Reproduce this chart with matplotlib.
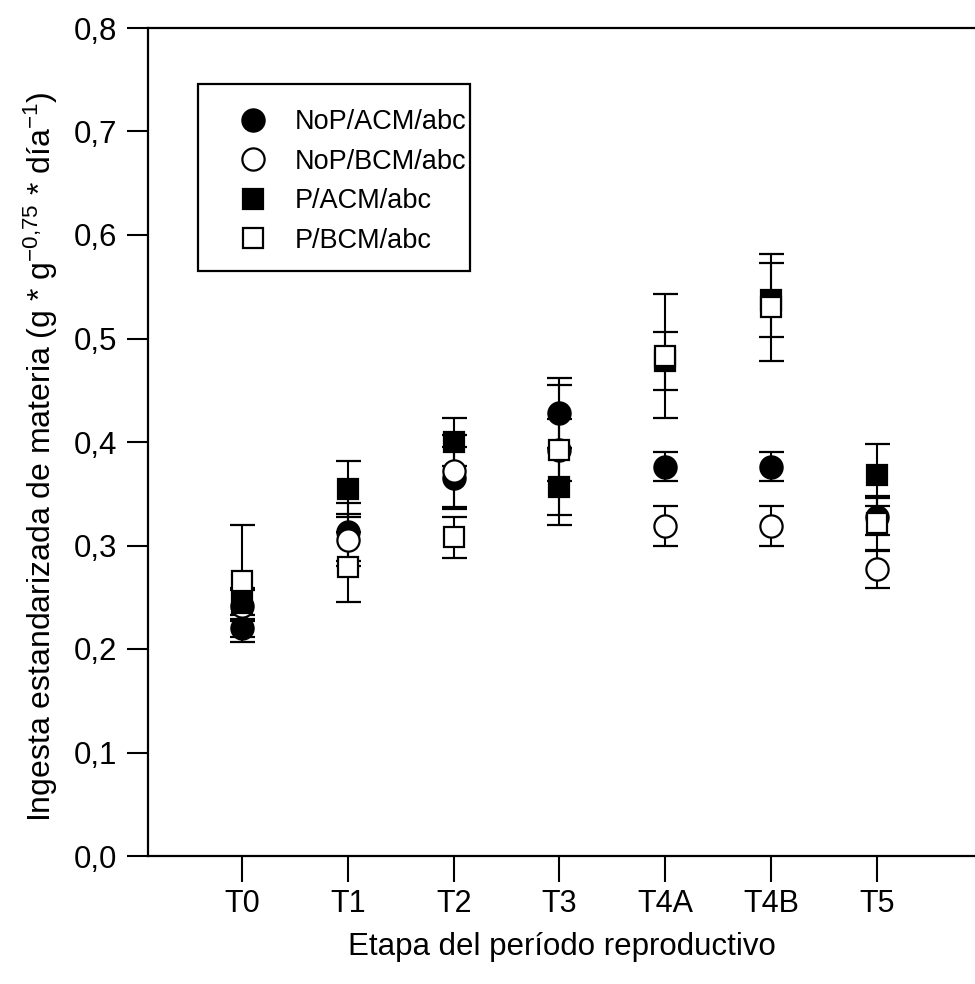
import numpy as np
import matplotlib
matplotlib.use("Agg")
import matplotlib.pyplot as plt
from matplotlib.lines import Line2D
from matplotlib.patches import Rectangle

plt.rcParams['font.family'] = ['Liberation Sans', 'DejaVu Sans']
plt.rcParams['mathtext.fontset'] = 'custom'
plt.rcParams['mathtext.rm'] = 'Liberation Sans'
plt.rcParams['mathtext.it'] = 'Liberation Sans:italic'

# Datos
etapas = ['T0', 'T1', 'T2', 'T3', 'T4A', 'T4B', 'T5']

nop_acm = [0.220, 0.313, 0.365, 0.428, 0.376, 0.376, 0.328]
nop_acm_err = [0.013, 0.028, 0.030, 0.034, 0.014, 0.014, 0.018]

nop_bcm = [0.242, 0.305, 0.372, 0.392, 0.319, 0.319, 0.277]
nop_bcm_err = [0.015, 0.025, 0.035, 0.030, 0.019, 0.019, 0.018]

p_acm = [0.244, 0.355, 0.400, 0.357, 0.478, 0.537, 0.368]
p_acm_err = [0.015, 0.027, 0.023, 0.037, 0.028, 0.036, 0.030]

p_bcm = [0.266, 0.279, 0.308, 0.392, 0.483, 0.530, 0.322]
p_bcm_err = [0.054, 0.034, 0.020, 0.063, 0.060, 0.052, 0.026]

x = np.arange(len(etapas))

W, H = 975, 984
fig = plt.figure(figsize=(W / 100, H / 100), dpi=100)
ax = fig.add_axes([148 / W, 1 - 856 / H, 1 - 148 / W, (856 - 28) / H])

series = [
    (nop_acm, nop_acm_err, 'o', 'black', 'NoP/ACM/abc', 16),
    (nop_bcm, nop_bcm_err, 'o', 'white', 'NoP/BCM/abc', 16),
    (p_acm, p_acm_err, 's', 'black', 'P/ACM/abc', 15),
    (p_bcm, p_bcm_err, 's', 'white', 'P/BCM/abc', 15),
]

handles = []
for vals, errs, mk, fc, lab, ms in series:
    ax.errorbar(x, vals, yerr=errs, fmt=mk, color='black', mfc=fc, mec='black',
                mew=1.6, ms=ms, ecolor='black', elinewidth=1.5, capsize=9,
                capthick=1.5)
    handles.append(Line2D([], [], ls='none', marker=mk, mfc=fc, mec='black',
                          mew=1.6, ms=ms, label=lab))

ax.set_xlim(-0.89, 6.93)
ax.set_ylim(0, 0.8)
ax.set_xticks(x)
ax.set_xticklabels(etapas, fontsize=22)
yt = np.arange(0, 0.81, 0.1)
ax.set_yticks(yt)
ax.set_yticklabels([f"{v:.1f}".replace('.', ',') for v in yt], fontsize=22.5)
ax.tick_params(axis='y', direction='out', length=15, width=1.5, pad=7)
ax.tick_params(axis='x', direction='out', length=19, width=1.5, pad=5)

ax.spines['right'].set_visible(False)
for s in ['left', 'top', 'bottom']:
    ax.spines[s].set_linewidth(1.6)

ax.set_xlabel('Etapa del período reproductivo', fontsize=22.5, labelpad=9)
ax.set_ylabel(r'Ingesta estandarizada de materia (g * g$^{\mathrm{-0{,}75}}$ * día$^{\mathrm{-1}}$)',
              fontsize=23)
ax.yaxis.set_label_coords(-0.106, 0.482)

# leyenda: recuadro aparte, entradas sin marco
def px2ax(px, py):
    return (px - 148) / (W - 148), (856 - py) / (856 - 28)

x0, y0 = px2ax(198, 271)
x1, y1 = px2ax(470, 84)
ax.add_patch(Rectangle((x0, y0), x1 - x0, y1 - y0, transform=ax.transAxes,
                       fill=True, facecolor='white', edgecolor='black', lw=1.6,
                       zorder=4))
lx, ly = px2ax(253 - 0.5 * 27 * 1.6, 109)
leg = ax.legend(handles=handles, loc='upper left', bbox_to_anchor=(lx, ly),
                borderaxespad=0, borderpad=0, fontsize=19.5, frameon=False,
                handlelength=1.6, handletextpad=0.75, labelspacing=0.5)
leg.set_zorder(5)

fig.savefig('out.png', dpi=100)
